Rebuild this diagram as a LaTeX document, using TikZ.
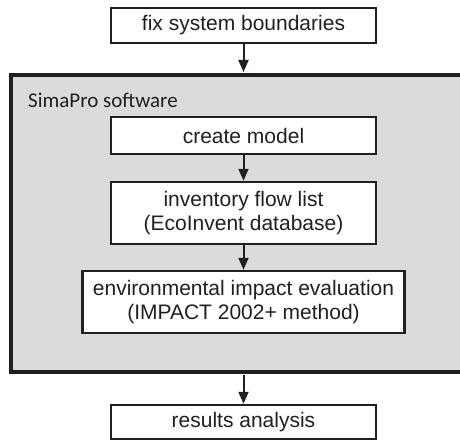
\documentclass[tikz,border=0pt]{standalone}
\usepackage{fontspec}
\setmainfont{Liberation Sans}
\newfontfamily\calibri{Carlito}
\usetikzlibrary{arrows.meta}
\definecolor{ink}{HTML}{231F20}
\definecolor{panel}{HTML}{DADBDD}
\begin{document}
\begin{tikzpicture}[x=1pt,y=-1pt,
  stepbox/.style={draw=ink,line width=2.5pt,fill=white,inner sep=0pt,align=center,
    font=\fontsize{21}{23.5}\selectfont,text=ink},
  flow/.style={draw=ink,line width=2pt,-{Triangle[width=10pt,length=12pt]}}]
\useasboundingbox (0,0) rectangle (460,441);
\clip (0,0) rectangle (460,441);
\node[draw=ink,fill=panel,line width=4pt,minimum width=465pt,minimum height=297pt,inner sep=0pt] (sima) at (243.5,223.5) {};
\node[anchor=base west,inner sep=0pt,font=\calibri\fontsize{21}{24}\selectfont,text=ink] (lbl) at (28,107) {SimaPro software};
\node[stepbox,minimum width=265pt,minimum height=35pt] (fix) at (243.5,25.5) {fix system boundaries};
\node[stepbox,minimum width=265pt,minimum height=37pt] (model) at (243.5,135.5) {create model};
\node[stepbox,minimum width=265pt,minimum height=62pt] (inv) at (243.5,213) {inventory flow list\\(EcoInvent database)};
\node[stepbox,minimum width=322pt,minimum height=62pt] (env) at (243.5,302) {environmental impact evaluation\\(IMPACT 2002+ method)};
\node[stepbox,minimum width=265pt,minimum height=34pt] (res) at (243.5,422) {results analysis};
\draw[flow] (fix.south) -- ([yshift=1pt]sima.north);
\draw[flow] (model.south) -- (inv.north);
\draw[flow] (inv.south) -- (env.north);
\draw[flow] ([yshift=-1pt]sima.south) -- (res.north);
\end{tikzpicture}
\end{document}
